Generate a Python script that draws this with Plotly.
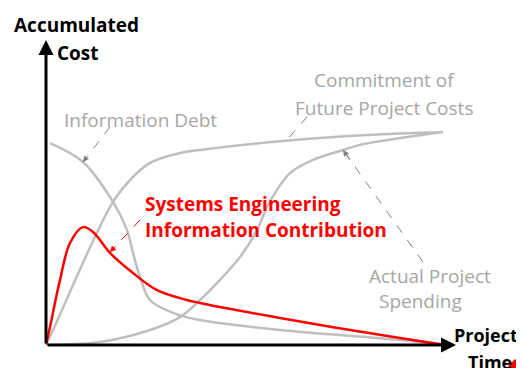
import plotly.graph_objects as go

# project time (0-100) and accumulated cost (0-100)
debt_t = [1, 9.25, 16.75, 20.25, 21.75, 23.5, 26, 31.75, 38.5, 58.5, 88.5, 100]
debt_c = [67.3, 61, 47.7, 38.3, 30.7, 22.7, 15, 10.7, 8.3, 5, 1.7, 0]

commit_t = [0, 1.75, 16.75, 21.75, 26, 33.5, 38.5, 59.25, 80.25, 99.25]
commit_c = [0, 5, 47.7, 56, 60.7, 64, 65, 68, 70, 71]

spend_t = [0, 13.5, 26, 33.5, 38.5, 43.5, 48.5, 52.75, 55.25, 57.75, 61, 66.75, 74.25, 78.5, 99.25]
spend_c = [0, 1, 5, 9.3, 15, 21.7, 29.3, 38.3, 46, 51.7, 57.3, 61.7, 65, 66.7, 71]

se_t = [0, 1, 3.5, 6, 9.25, 11.75, 16, 21.75, 27.75, 35.25, 38.5, 58.5, 88.5, 100]
se_c = [0, 6, 21.7, 34, 39.3, 37.7, 30.7, 24, 18.3, 15, 14, 9, 2.3, 0]

GREY = "#bfbfbf"
GREY_TXT = "#a6a6a6"
RED = "#ff0000"
FONT = "Open Sans"

fig = go.Figure()
for t, c, col in [(debt_t, debt_c, GREY), (commit_t, commit_c, GREY),
                  (spend_t, spend_c, GREY), (se_t, se_c, RED)]:
    fig.add_trace(go.Scatter(x=t, y=c, mode="lines", line=dict(color=col, width=2.5, shape="spline"),
                             hoverinfo="skip", showlegend=False))


def px(x, y):
    # pixel position in the picture -> paper coordinates
    return (x - 46) / 400, (345 - y) / 300


def label(text, x, y, color, size=19, bold=False, anchor="center"):
    X, Y = px(x, y)
    if bold:
        text = "<b>" + text + "</b>"
    fig.add_annotation(x=X, y=Y, xref="paper", yref="paper", text=text, showarrow=False,
                       xanchor=anchor, yanchor="middle", font=dict(family=FONT, size=size, color=color))


def arrow(x0, y0, x1, y1, color, width, head, size):
    X, Y = px(x1, y1)
    fig.add_annotation(x=X, y=Y, xref="paper", yref="paper", ax=x0 - x1, ay=y0 - y1,
                       text="", showarrow=True, arrowhead=head, arrowsize=size, arrowwidth=width,
                       arrowcolor=color, standoff=0)


def leader(x0, y0, x1, y1, color):
    a0, b0 = px(x0, y0)
    a1, b1 = px(x1, y1)
    fig.add_shape(type="line", xref="paper", yref="paper", x0=a0, y0=b0, x1=a1, y1=b1,
                  line=dict(color=color, width=1, dash="dash"))
    arrow(x1 + (x0 - x1) * 0.1, y1 + (y0 - y1) * 0.1, x1, y1, color, 1, 2, 1.2)


# axes with arrows
arrow(46, 345, 46, 40, "black", 3, 2, 1)
arrow(46, 345, 456, 345, "black", 3, 2, 1)

label("Accumulated", 76, 25, "black", bold=True)
label("Cost", 55, 53, "black", bold=True, anchor="left")
label("Project", 452, 335, "black", size=18, bold=True, anchor="left")
label("Time", 466, 362, "black", size=18, bold=True, anchor="left")

label("Information Debt", 140, 120, GREY_TXT)
label("Commitment of", 384, 80, GREY_TXT)
label("Future Project Costs", 384, 108, GREY_TXT)
label("Actual Project", 430, 276, GREY_TXT)
label("Spending", 420, 301, GREY_TXT)
label("Systems Engineering", 143, 204, RED, bold=True, anchor="left")
label("Information Contribution", 143, 230, RED, bold=True, anchor="left")

leader(110, 127, 83, 162, "#808080")
leader(307, 117, 285, 142, "#808080")
leader(423, 262, 343, 150, "#808080")
leader(140, 220, 110, 252, RED)

# small red mark cut by the lower right edge
p = [px(508, 366), px(515, 359), px(522, 366), px(515, 373)]
fig.add_shape(type="path", xref="paper", yref="paper", fillcolor=RED, line=dict(width=0),
              path="M {} {} L {} {} L {} {} L {} {} Z".format(*[v for q in p for v in q]))

# the page adds an 8 px body margin, so the figure is 8 px smaller
fig.update_layout(
    width=516, height=360,
    margin=dict(l=38, r=78, t=37, b=23),
    plot_bgcolor="white", paper_bgcolor="white",
    xaxis=dict(range=[0, 100], visible=False),
    yaxis=dict(range=[0, 100], visible=False),
)

fig.write_html("out.html")
